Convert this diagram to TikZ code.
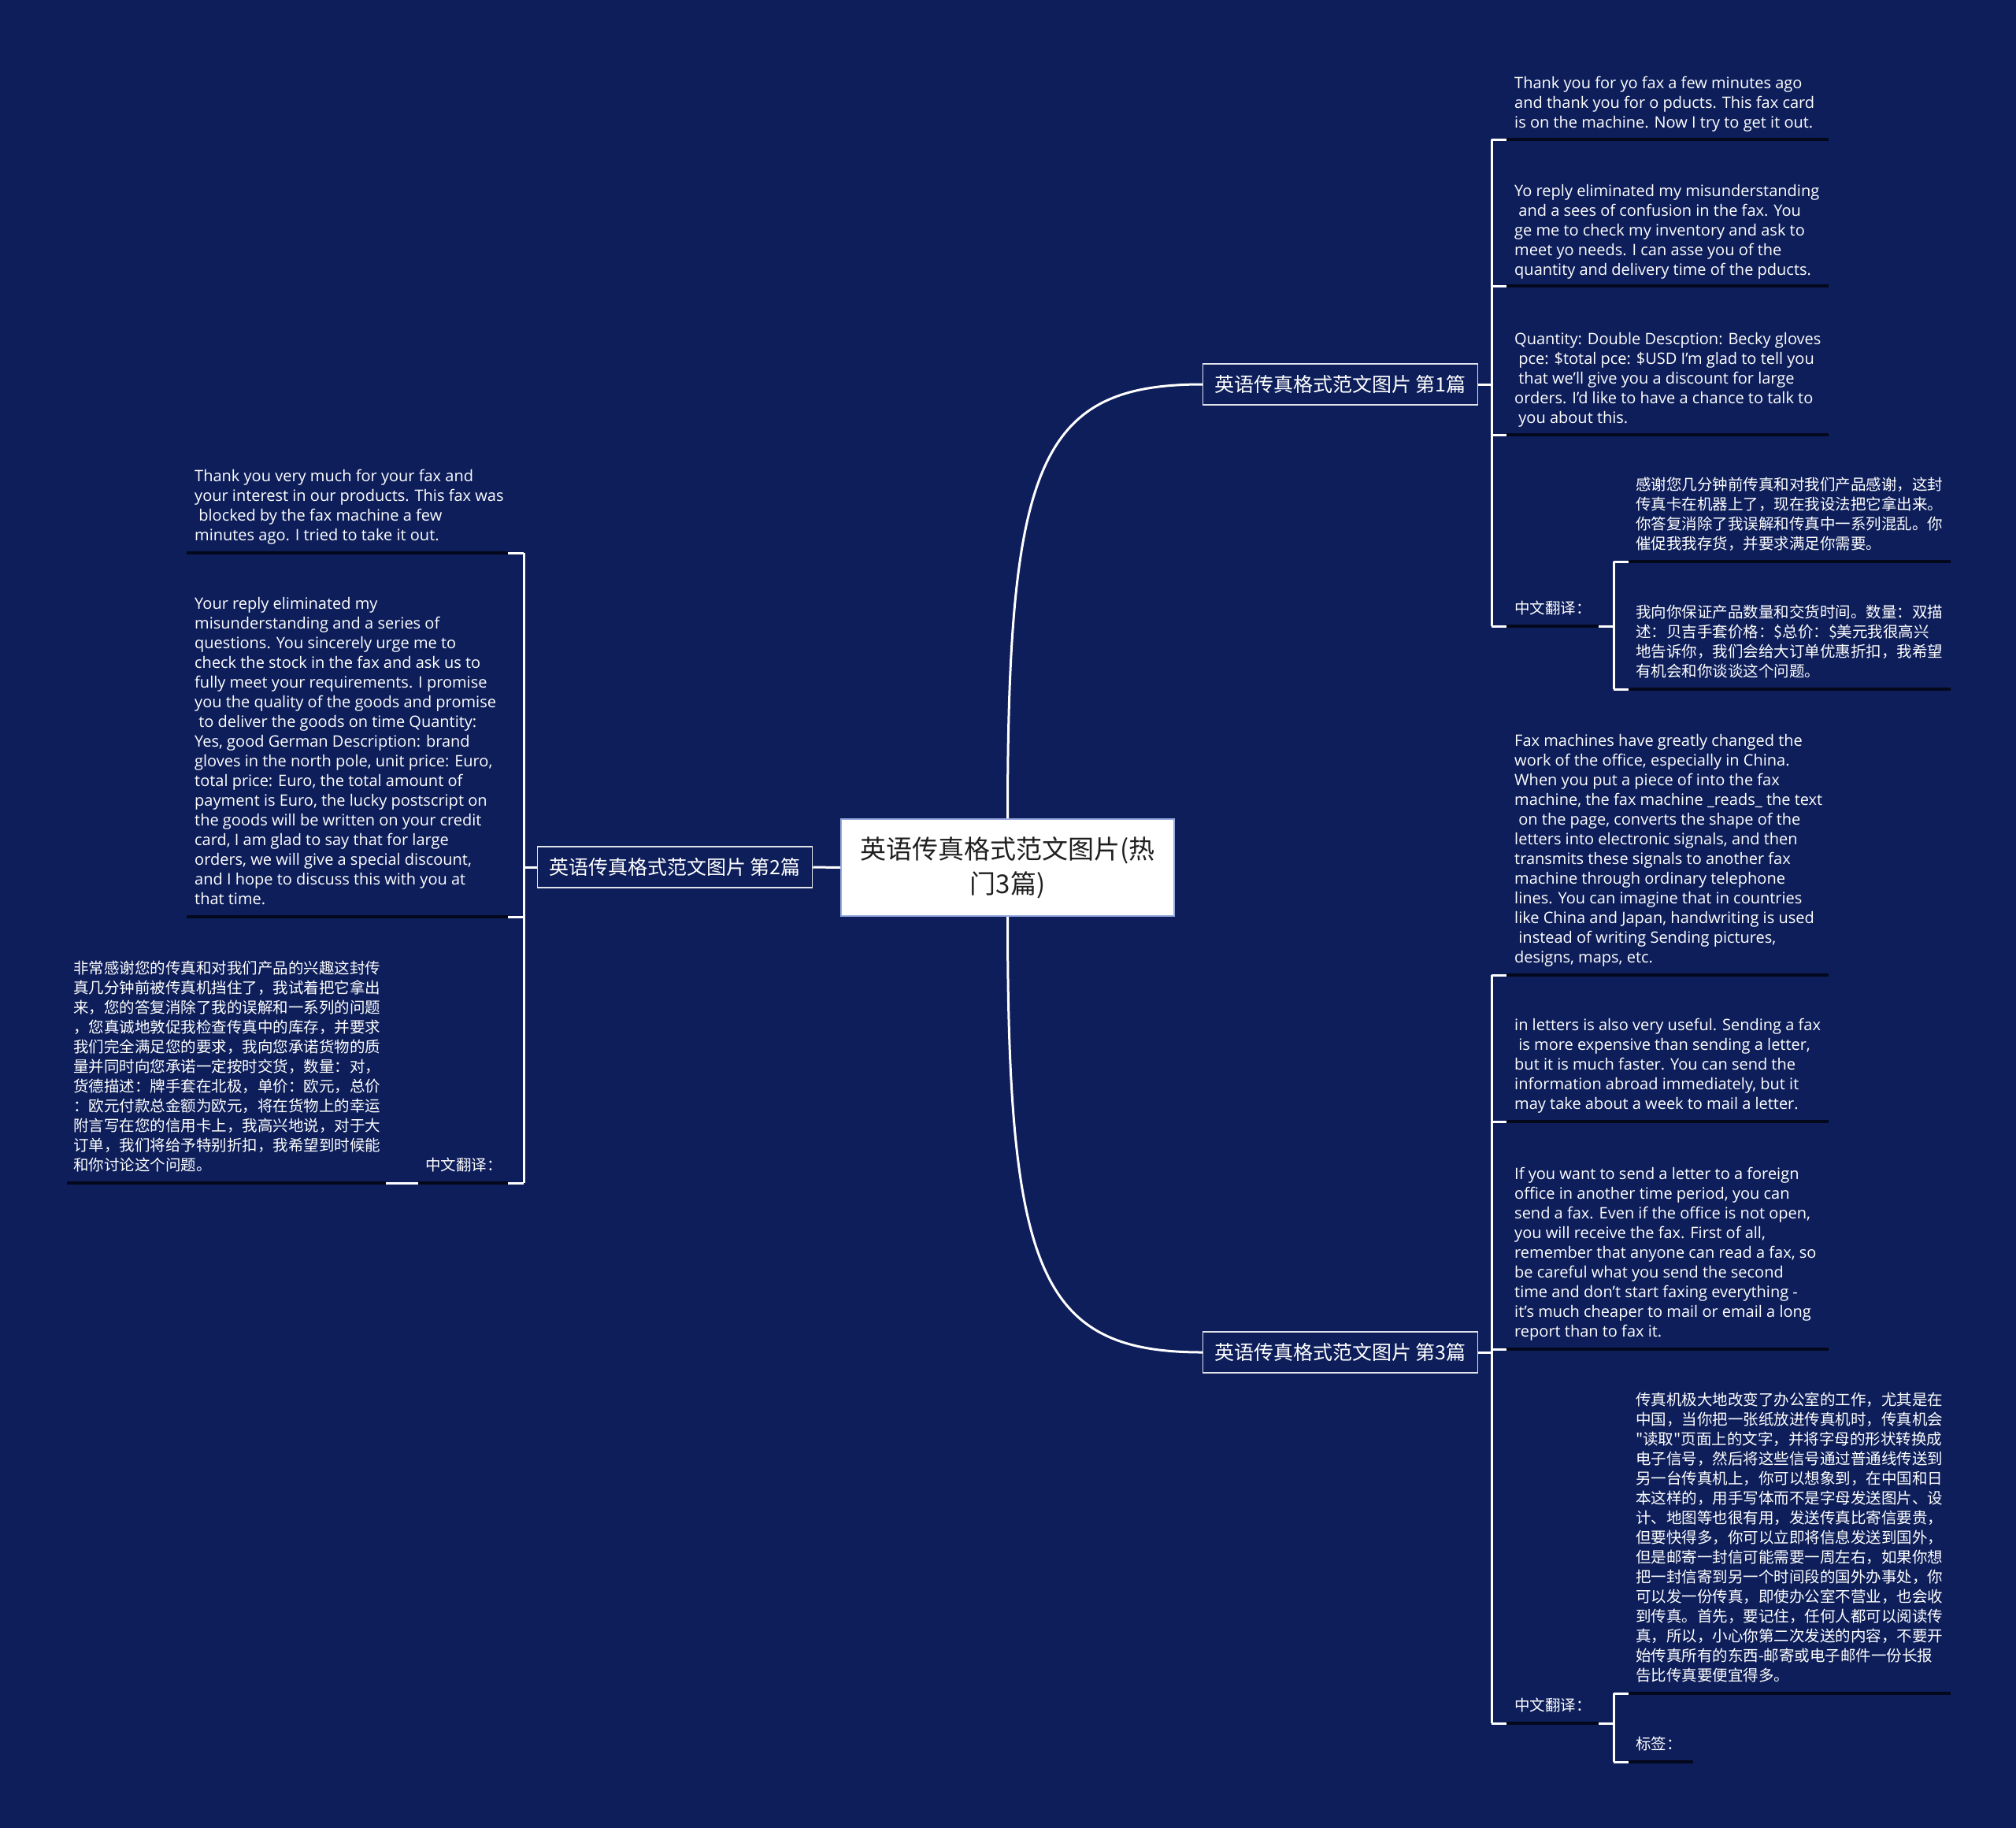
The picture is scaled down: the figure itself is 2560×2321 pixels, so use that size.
\documentclass[tikz,border=0pt]{standalone}
\usepackage{fontspec}
\setmainfont{Open Sans}
\newfontfamily\cjk{Noto Sans CJK SC}
\definecolor{bgnavy}{RGB}{13,30,90}
\definecolor{ulinec}{RGB}{3,8,28}
\definecolor{rootborder}{RGB}{150,170,225}
\newcommand\leaflines[1]{\begin{tabular}[b]{@{}l@{}}#1\end{tabular}}
\newcommand\enfont{\fontsize{20}{25}\selectfont}
\newcommand\cnfont{\cjk\fontsize{19.5}{25}\selectfont}
\tikzset{
  wire/.style={draw=white, line width=3pt},
  ulinedark/.style={draw=ulinec, line width=4.5pt},
  enleaf/.style={text=white, inner sep=0pt, anchor=base west, font=\enfont},
  cnleaf/.style={text=white, inner sep=0pt, anchor=base west, font=\cnfont},
  branch/.style={draw=white!88!bgnavy, line width=1.5pt, fill=bgnavy, text=white, font=\cjk\fontsize{25}{30}\selectfont, minimum width=349pt, minimum height=52pt, inner sep=0pt},
  rootbox/.style={draw=rootborder, line width=2pt, fill=white, text=black!88, font=\cjk\fontsize{33}{44}\selectfont, align=center, minimum width=423pt, minimum height=123pt, inner sep=0pt}
}
\begin{document}
\begin{tikzpicture}[x=1pt,y=-1pt]
\fill[bgnavy] (0,0) rectangle (2560,2321);
\useasboundingbox (0,0) rectangle (2560,2321);

% nodes
\node[rootbox] (root) at (1279.5,1101.5) {英语传真格式范文图片(热\\门3篇)};
\node[branch] (b1) at (1702,488) {英语传真格式范文图片 第1篇};
\node[branch] (b2) at (857,1101) {英语传真格式范文图片 第2篇};
\node[branch] (b3) at (1702,1717) {英语传真格式范文图片 第3篇};

% joints
\coordinate (j1) at (1894,488);
\coordinate (j11) at (1894,177);
\coordinate (j12) at (1894,363);
\coordinate (j13) at (1894,552);
\coordinate (j14) at (1894,795);
\coordinate (s14) at (2049,795);
\coordinate (j14a) at (2049,713);
\coordinate (j14b) at (2049,875);

\coordinate (j3) at (1894,1717);
\coordinate (j31) at (1894,1238);
\coordinate (j32) at (1894,1424);
\coordinate (j33) at (1894,1713);
\coordinate (j34) at (1894,2188);
\coordinate (s34) at (2049,2188);
\coordinate (j34a) at (2049,2150);
\coordinate (j34b) at (2049,2237);

\coordinate (j2) at (665,1101);
\coordinate (j21) at (665,702);
\coordinate (j22) at (665,1164);
\coordinate (j23) at (665,1502);
\coordinate (s23) at (490,1502);

% dark underlines
\foreach \j in {j11,j12,j13,j31,j32,j33}
  \draw[ulinedark] (\j) ++(19,0) -- ++(409,0);
\draw[ulinedark] (j14) ++(19,0) -- ++(117,0);
\draw[ulinedark] (j34) ++(19,0) -- ++(117,0);
\foreach \j in {j14a,j14b,j34a}
  \draw[ulinedark] (\j) ++(19,0) -- ++(409,0);
\draw[ulinedark] (j34b) ++(19,0) -- ++(82,0);
\draw[ulinedark] (j21) ++(-20,0) -- ++(-408,0);
\draw[ulinedark] (j22) ++(-20,0) -- ++(-408,0);
\draw[ulinedark] (j23) ++(-20,0) -- ++(-114,0);
\draw[ulinedark] (s23) -- ++(-405,0);

% white connectors
\draw[wire] (root.north) .. controls +(0,-452) and +(-206,0) .. (b1.west);
\draw[wire] (root.south) .. controls +(0,452) and +(-206,0) .. (b3.west);
\draw[wire] (root.west) -- (b2.east);
\draw[wire] (b1.east) -- (j1);
\draw[wire] (b3.east) -- (j3);
\draw[wire] (b2.west) -- (j2);
\draw[wire] (j11) -- (j14);
\draw[wire] (j31) -- (j34);
\draw[wire] (j21) -- (j23);
\draw[wire] (j14a) -- (j14b);
\draw[wire] (j34a) -- (j34b);
\foreach \j in {j11,j12,j13,j14,j31,j32,j33,j34,j14a,j14b,j34a,j34b}
  \draw[wire] (\j) -- ++(19,0);
\foreach \j in {j21,j22,j23}
  \draw[wire] (\j) -- ++(-20,0);
\draw[wire] (s14) -- ++(-19,0);
\draw[wire] (s34) -- ++(-19,0);
\draw[wire] (s23) -- ++(41,0);

% leaves, branch 1
\node[enleaf] (l11) at (1923,162) {\leaflines{Thank you for yo fax a few minutes ago\\and thank you for o pducts. This fax card\\is on the machine. Now I try to get it out.}};
\node[enleaf] (l12) at (1923,349) {\leaflines{Yo reply eliminated my misunderstanding\\\ and a sees of confusion in the fax. You\\ge me to check my inventory and ask to\\meet yo needs. I can asse you of the\\quantity and delivery time of the pducts.}};
\node[enleaf] (l13) at (1923,537) {\leaflines{Quantity: Double Descption: Becky gloves\\\ pce: \$total pce: \$USD I'm glad to tell you\\\ that we'll give you a discount for large\\orders. I'd like to have a chance to talk to\\\ you about this.}};
\node[cnleaf] (l14) at (1923,779) {中文翻译：};
\node[cnleaf] (l14a) at (2077,697) {\leaflines{感谢您几分钟前传真和对我们产品感谢，这封\\传真卡在机器上了，现在我设法把它拿出来。\\你答复消除了我误解和传真中一系列混乱。你\\催促我我存货，并要求满足你需要。}};
\node[cnleaf] (l14b) at (2077,859) {\leaflines{我向你保证产品数量和交货时间。数量：双描\\述：贝吉手套价格：\$总价：\$美元我很高兴\\地告诉你，我们会给大订单优惠折扣，我希望\\有机会和你谈谈这个问题。}};

% leaves, branch 3
\node[enleaf] (l31) at (1923,1222) {\leaflines{Fax machines have greatly changed the\\work of the office, especially in China.\\When you put a piece of into the fax\\machine, the fax machine \_reads\_ the text\\\ on the page, converts the shape of the\\letters into electronic signals, and then\\transmits these signals to another fax\\machine through ordinary telephone\\lines. You can imagine that in countries\\like China and Japan, handwriting is used\\\ instead of writing Sending pictures,\\designs, maps, etc.}};
\node[enleaf] (l32) at (1923,1408) {\leaflines{in letters is also very useful. Sending a fax\\\ is more expensive than sending a letter,\\but it is much faster. You can send the\\information abroad immediately, but it\\may take about a week to mail a letter.}};
\node[enleaf] (l33) at (1923,1697) {\leaflines{If you want to send a letter to a foreign\\office in another time period, you can\\send a fax. Even if the office is not open,\\you will receive the fax. First of all,\\remember that anyone can read a fax, so\\be careful what you send the second\\time and don't start faxing everything -\\it's much cheaper to mail or email a long\\report than to fax it.}};
\node[cnleaf] (l34) at (1923,2172) {中文翻译：};
\node[cnleaf] (l34a) at (2077,2134) {\leaflines{传真机极大地改变了办公室的工作，尤其是在\\中国，当你把一张纸放进传真机时，传真机会\\"读取"页面上的文字，并将字母的形状转换成\\电子信号，然后将这些信号通过普通线传送到\\另一台传真机上，你可以想象到，在中国和日\\本这样的，用手写体而不是字母发送图片、设\\计、地图等也很有用，发送传真比寄信要贵，\\但要快得多，你可以立即将信息发送到国外，\\但是邮寄一封信可能需要一周左右，如果你想\\把一封信寄到另一个时间段的国外办事处，你\\可以发一份传真，即使办公室不营业，也会收\\到传真。首先，要记住，任何人都可以阅读传\\真，所以，小心你第二次发送的内容，不要开\\始传真所有的东西-邮寄或电子邮件一份长报\\告比传真要便宜得多。}};
\node[cnleaf] (l34b) at (2077,2221) {标签：};

% leaves, branch 2
\node[enleaf] (l21) at (247,686) {\leaflines{Thank you very much for your fax and\\your interest in our products. This fax was\\\ blocked by the fax machine a few\\minutes ago. I tried to take it out.}};
\node[enleaf] (l22) at (247,1148) {\leaflines{Your reply eliminated my\\misunderstanding and a series of\\questions. You sincerely urge me to\\check the stock in the fax and ask us to\\fully meet your requirements. I promise\\you the quality of the goods and promise\\\ to deliver the goods on time Quantity:\\Yes, good German Description: brand\\gloves in the north pole, unit price: Euro,\\total price: Euro, the total amount of\\payment is Euro, the lucky postscript on\\the goods will be written on your credit\\card, I am glad to say that for large\\orders, we will give a special discount,\\and I hope to discuss this with you at\\that time.}};
\node[cnleaf] (l23) at (540,1486) {中文翻译：};
\node[cnleaf] (l23a) at (93,1486) {\leaflines{非常感谢您的传真和对我们产品的兴趣这封传\\真几分钟前被传真机挡住了，我试着把它拿出\\来，您的答复消除了我的误解和一系列的问题\\，您真诚地敦促我检查传真中的库存，并要求\\我们完全满足您的要求，我向您承诺货物的质\\量并同时向您承诺一定按时交货，数量：对，\\货德描述：牌手套在北极，单价：欧元，总价\\：欧元付款总金额为欧元，将在货物上的幸运\\附言写在您的信用卡上，我高兴地说，对于大\\订单，我们将给予特别折扣，我希望到时候能\\和你讨论这个问题。}};
\end{tikzpicture}
\end{document}
